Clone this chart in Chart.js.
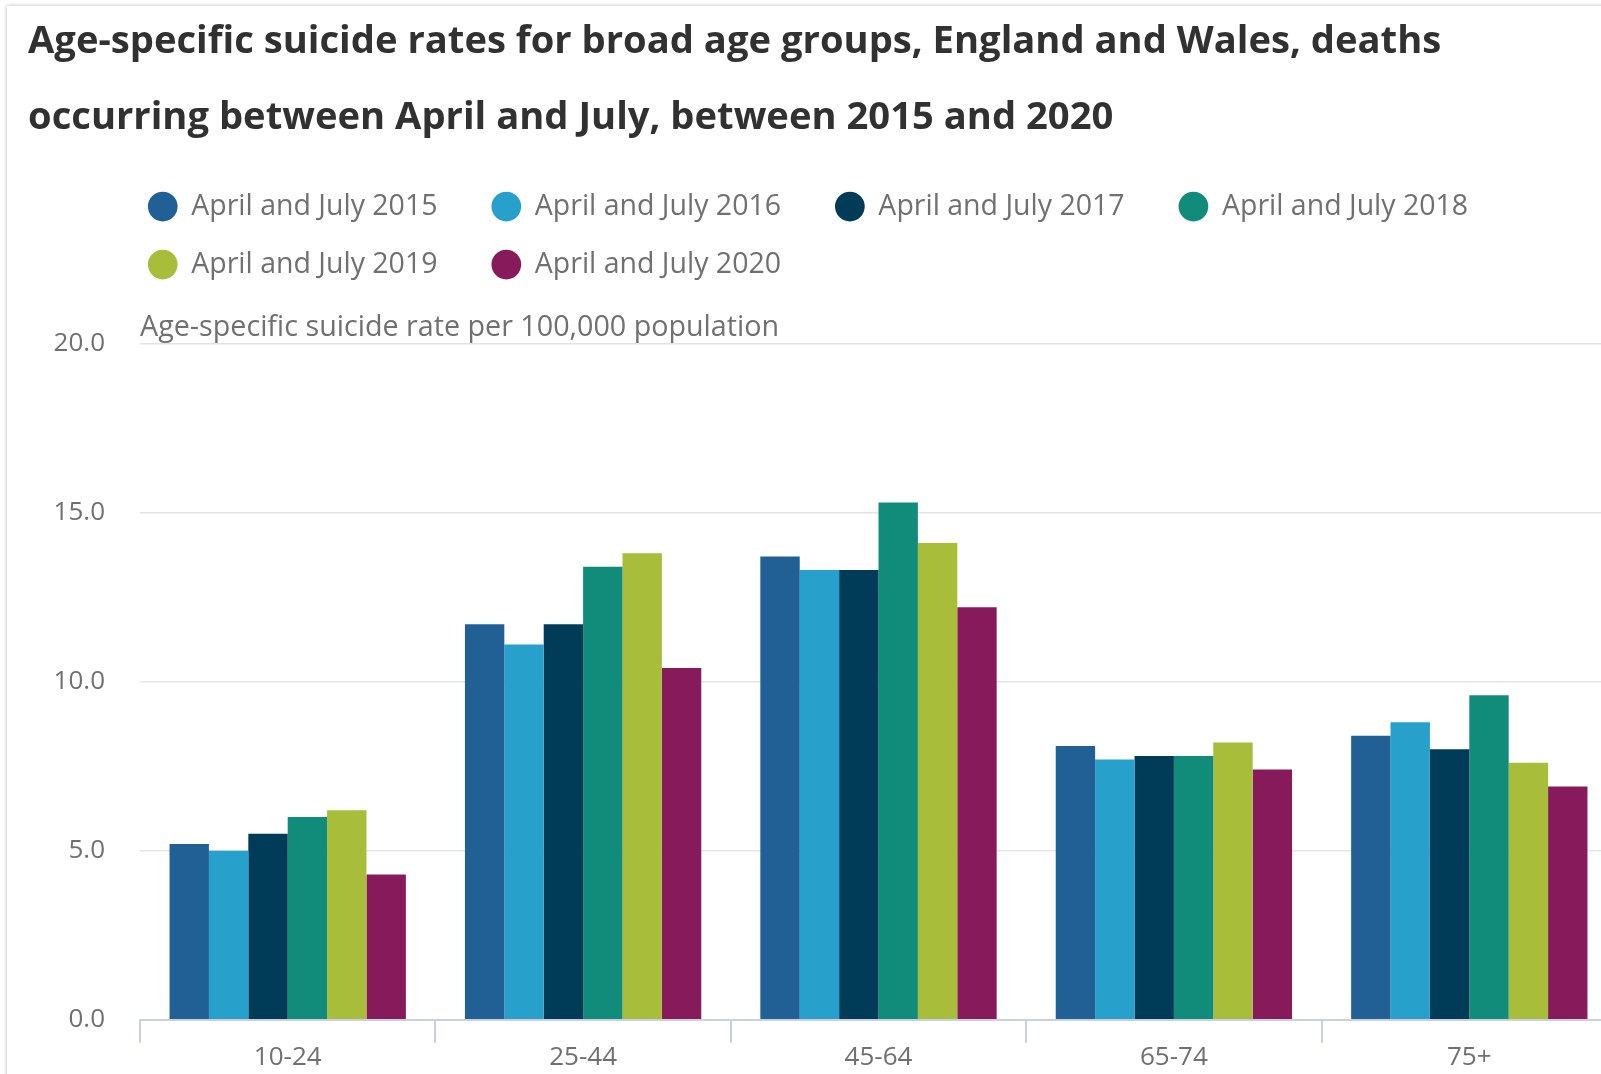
<!DOCTYPE html>
<html>
<head>
<meta charset="utf-8">
<script src="https://cdn.jsdelivr.net/npm/chart.js@4"></script>
<style>
  html, body { margin: 0; padding: 0; background: #fff; overflow: hidden; }
  body { width: 1601px; height: 1074px; position: relative; }
  .card {
    position: absolute; left: 7px; top: 6px; width: 1700px; height: 1200px;
    background: #fff; box-shadow: 0 0 4px rgba(0, 0, 0, 0.3);
  }
  #chart { position: absolute; left: 28px; top: 0; }
</style>
</head>
<body>
<div class="card"></div>
<canvas id="chart" width="1589" height="1072"></canvas>
<script>
// age groups on the x axis
const ageGroups = ["10-24", "25-44", "45-64", "65-74", "75+"];

// rate per 100,000
const rates2015 = [5.2, 11.7, 13.7, 8.1, 8.4];
const rates2016 = [5.0, 11.1, 13.3, 7.7, 8.8];
const rates2017 = [5.5, 11.7, 13.3, 7.8, 8.0];
const rates2018 = [6.0, 13.4, 15.3, 7.8, 9.6];
const rates2019 = [6.2, 13.8, 14.1, 8.2, 7.6];
const rates2020 = [4.3, 10.4, 12.2, 7.4, 6.9];

const seriesNames = [
  "April and July 2015", "April and July 2016", "April and July 2017",
  "April and July 2018", "April and July 2019", "April and July 2020"
];
const seriesColors = ["#206095", "#27a0cc", "#003c57", "#118c7b", "#a8bd3a", "#871a5b"];
const yTicks = [0, 5, 10, 15, 20];

const allRates = [rates2015, rates2016, rates2017, rates2018, rates2019, rates2020];

const greyText = "#707071";
const font = "'Open Sans', sans-serif";

// legend in the original starts a bit left of the plot area
const legendNudge = {
  id: "legendNudge",
  afterLayout(chart) {
    chart.legend.left -= 21;
    chart.legend.right -= 21;
  }
};

const ctx = document.getElementById("chart").getContext("2d");
const chart = new Chart(ctx, {
  type: "bar",
  data: {
    labels: ageGroups,
    datasets: allRates.map((values, i) => ({
      label: seriesNames[i],
      data: values,
      backgroundColor: seriesColors[i],
      borderWidth: 0,
      categoryPercentage: 0.8,
      barPercentage: 1.0
    }))
  },
  options: {
    responsive: false,
    animation: false,
    layout: { padding: 0 },
    plugins: {
      title: {
        display: true,
        align: "start",
        text: [
          "Age-specific suicide rates for broad age groups, England and Wales, deaths",
          "occurring between April and July, between 2015 and 2020"
        ],
        color: "#323132",
        font: { family: font, size: 38.2, weight: "bold", lineHeight: 2 },
        padding: { top: 4, bottom: 6 }
      },
      legend: {
        display: true,
        position: "top",
        align: "start",
        fullSize: false,
        labels: {
          usePointStyle: true,
          pointStyle: "circle",
          boxHeight: 21,
          padding: 29.5,
          color: greyText,
          font: { family: font, size: 28.5 },
          // pad the label text so the columns space out like the original
          generateLabels(chart) {
            const items = Chart.defaults.plugins.legend.labels.generateLabels(chart);
            items.forEach(item => { item.text = item.text + "   \u200A"; });
            return items;
          }
        }
      },
      subtitle: {
        display: true,
        align: "start",
        fullSize: false,
        weight: 900,
        text: "Age-specific suicide rate per 100,000 population",
        color: greyText,
        font: { family: font, size: 28.7, lineHeight: 1 },
        padding: { top: 25, bottom: 1 }
      },
      tooltip: { enabled: false }
    },
    scales: {
      x: {
        grid: {
          offset: true,
          drawOnChartArea: false,
          tickLength: 23,
          color: "#c9d0e4",
          lineWidth: 2
        },
        border: { color: "#c9d0e4", width: 2 },
        ticks: {
          color: greyText,
          font: { family: font, size: 26 },
          padding: -1
        }
      },
      y: {
        min: 0,
        max: 20,
        afterFit(scale) { scale.width = 112; },
        afterBuildTicks(scale) { scale.ticks = yTicks.map(v => ({ value: v })); },
        grid: { color: "#e3e3e3", lineWidth: 1.5, drawTicks: false },
        border: { display: false },
        ticks: {
          color: greyText,
          font: { family: font, size: 26 },
          padding: 35,
          callback: v => v.toFixed(1)
        }
      }
    }
  },
  plugins: [legendNudge]
});
</script>
</body>
</html>
